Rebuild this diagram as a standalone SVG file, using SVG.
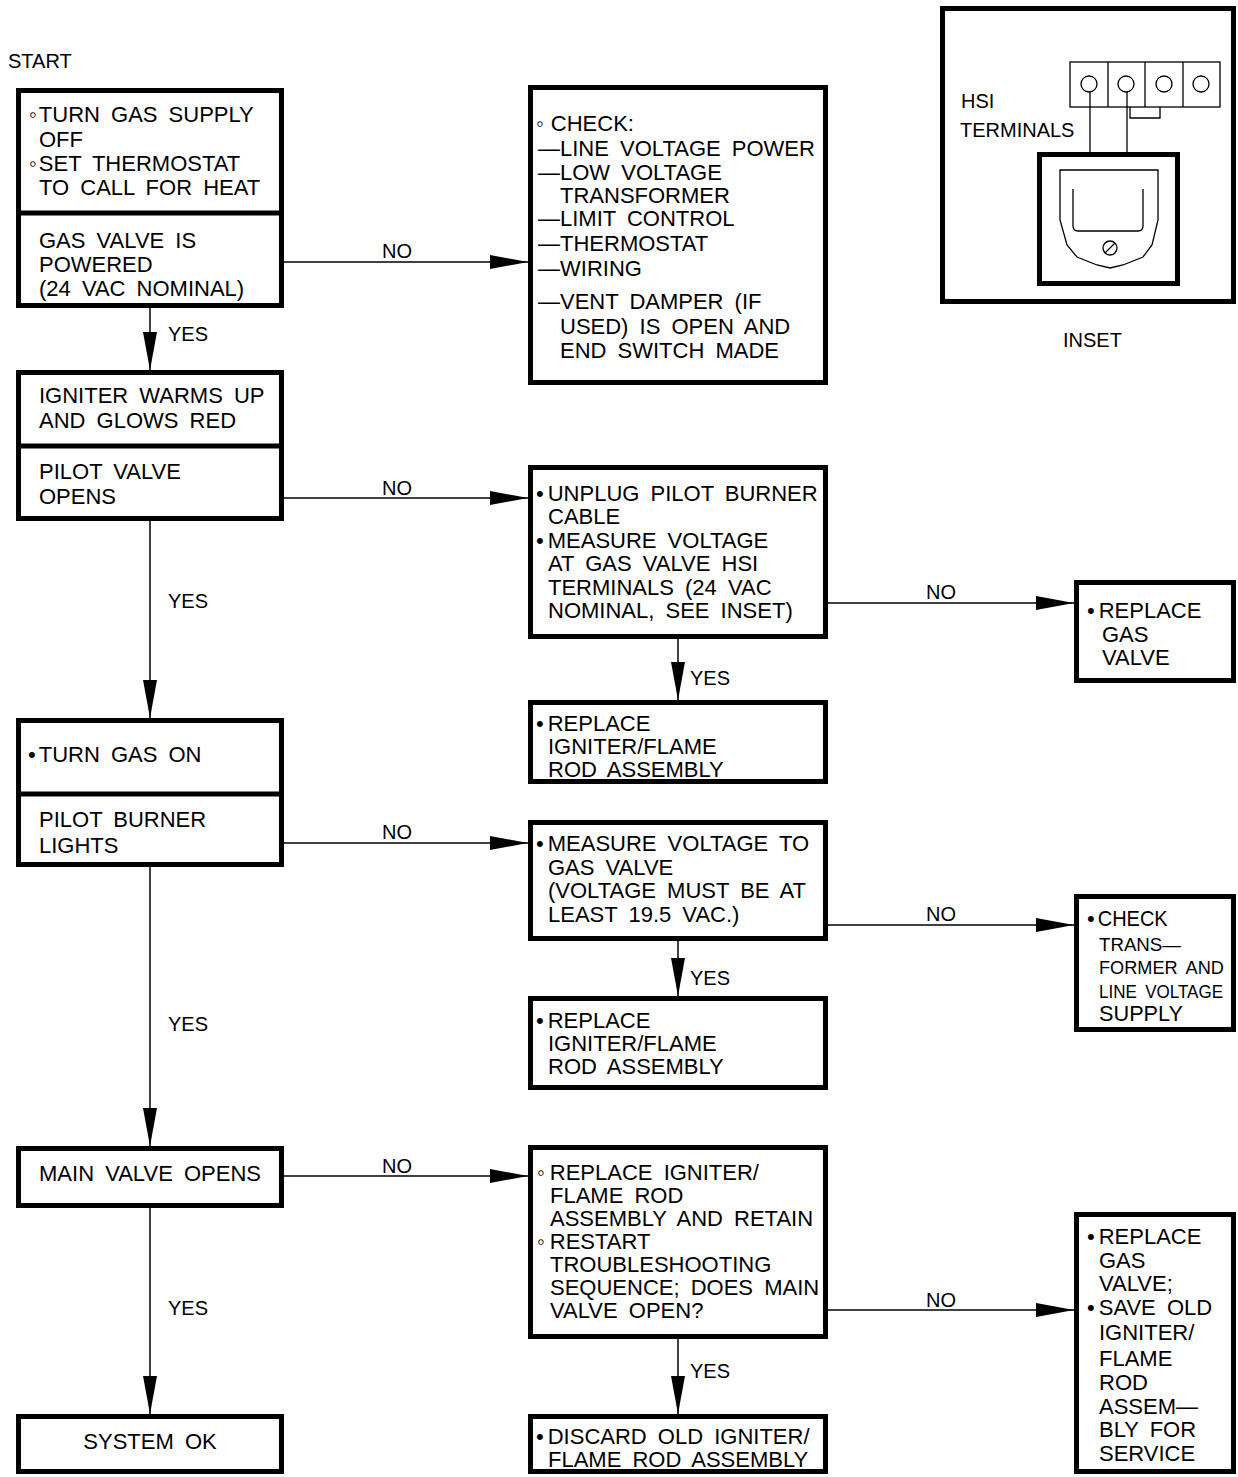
<svg xmlns="http://www.w3.org/2000/svg" width="1238" height="1477" viewBox="0 0 1238 1477">
<defs>
<style>
.box{fill:#fff;stroke:#000;stroke-width:5}
.div{stroke:#000;stroke-width:5}
.ln{stroke:#000;stroke-width:1.5;fill:none}
.thin{stroke:#000;stroke-width:1.3;fill:none}
text{font-family:"Liberation Sans",Arial,sans-serif;font-size:22px;fill:#000;word-spacing:5px}
.lbl{font-size:20px;word-spacing:0}
.mid{text-anchor:middle}
.nar{font-size:19px;word-spacing:4px}
</style>
<marker id="ah" markerUnits="userSpaceOnUse" markerWidth="38" markerHeight="14" refX="38" refY="7" orient="auto">
<path d="M0,0 L38,7 L0,14 z" fill="#000"/>
</marker>
</defs>
<rect width="1238" height="1477" fill="#fff"/>

<text class="lbl" x="8" y="68">START</text>

<g id="connectors">
<line class="ln" x1="284" y1="262" x2="528" y2="262" marker-end="url(#ah)"/>
<text class="lbl" x="382" y="258">NO</text>
<line class="ln" x1="150" y1="308" x2="150" y2="370" marker-end="url(#ah)"/>
<text class="lbl" x="168" y="341">YES</text>
<line class="ln" x1="284" y1="498" x2="528" y2="498" marker-end="url(#ah)"/>
<text class="lbl" x="382" y="495">NO</text>
<line class="ln" x1="150" y1="521" x2="150" y2="718" marker-end="url(#ah)"/>
<text class="lbl" x="168" y="608">YES</text>
<line class="ln" x1="828" y1="603" x2="1074" y2="603" marker-end="url(#ah)"/>
<text class="lbl" x="926" y="599">NO</text>
<line class="ln" x1="678" y1="639" x2="678" y2="700" marker-end="url(#ah)"/>
<text class="lbl" x="690" y="685">YES</text>
<line class="ln" x1="284" y1="843" x2="528" y2="843" marker-end="url(#ah)"/>
<text class="lbl" x="382" y="839">NO</text>
<line class="ln" x1="150" y1="867" x2="150" y2="1146" marker-end="url(#ah)"/>
<text class="lbl" x="168" y="1031">YES</text>
<line class="ln" x1="828" y1="925" x2="1074" y2="925" marker-end="url(#ah)"/>
<text class="lbl" x="926" y="921">NO</text>
<line class="ln" x1="678" y1="941" x2="678" y2="996" marker-end="url(#ah)"/>
<text class="lbl" x="690" y="985">YES</text>
<line class="ln" x1="284" y1="1176" x2="528" y2="1176" marker-end="url(#ah)"/>
<text class="lbl" x="382" y="1173">NO</text>
<line class="ln" x1="150" y1="1208" x2="150" y2="1414" marker-end="url(#ah)"/>
<text class="lbl" x="168" y="1315">YES</text>
<line class="ln" x1="828" y1="1310" x2="1074" y2="1310" marker-end="url(#ah)"/>
<text class="lbl" x="926" y="1307">NO</text>
<line class="ln" x1="678" y1="1339" x2="678" y2="1414" marker-end="url(#ah)"/>
<text class="lbl" x="690" y="1378">YES</text>
</g>

<g id="n-start">
<rect class="box" x="18.5" y="90.5" width="263" height="215"/>
<line class="div" x1="18" y1="213" x2="282" y2="213"/>
<text x="29" y="122">◦<tspan dx="2">TURN GAS SUPPLY</tspan></text>
<text x="39" y="147">OFF</text>
<text x="29" y="171">◦<tspan dx="2">SET THERMOSTAT</tspan></text>
<text x="39" y="195">TO CALL FOR HEAT</text>
<text x="39" y="248">GAS VALVE IS</text>
<text x="39" y="272">POWERED</text>
<text x="39" y="296">(24 VAC NOMINAL)</text>
</g>

<g id="n-check">
<rect class="box" x="530.5" y="87.5" width="295" height="295"/>
<text x="536" y="131">◦<tspan dx="7">CHECK:</tspan></text>
<text x="538" y="156">—LINE VOLTAGE POWER</text>
<text x="538" y="180">—LOW VOLTAGE</text>
<text x="560" y="203">TRANSFORMER</text>
<text x="538" y="226">—LIMIT CONTROL</text>
<text x="538" y="251">—THERMOSTAT</text>
<text x="538" y="276">—WIRING</text>
<text x="538" y="309">—VENT DAMPER (IF</text>
<text x="560" y="334">USED) IS OPEN AND</text>
<text x="560" y="358">END SWITCH MADE</text>
</g>

<g id="n-inset">
<rect class="box" x="942.5" y="8.5" width="291" height="293"/>
<rect class="thin" x="1070" y="62" width="150" height="45"/>
<line class="thin" x1="1108" y1="62" x2="1108" y2="107"/>
<line class="thin" x1="1145" y1="62" x2="1145" y2="107"/>
<line class="thin" x1="1183" y1="62" x2="1183" y2="107"/>
<circle class="thin" cx="1089" cy="84" r="8"/>
<circle class="thin" cx="1126" cy="84" r="8"/>
<circle class="thin" cx="1164" cy="84" r="8"/>
<circle class="thin" cx="1201" cy="84" r="8"/>
<path class="thin" d="M1130,107 V118 H1160 V107"/>
<line class="thin" x1="1090" y1="92" x2="1090" y2="153"/>
<line class="thin" x1="1127" y1="92" x2="1127" y2="153"/>
<rect class="box" x="1039.5" y="154.5" width="138" height="129"/>
<path class="thin" d="M1060,170 H1158 V220 L1152,245 L1143,257 L1123,265 L1110,268 L1097,265 L1077,257 L1067,245 L1060,220 Z"/>
<path class="thin" d="M1073,189 V226 Q1073,231 1078,231 H1138 Q1143,231 1143,226 V189"/>
<circle class="thin" cx="1110" cy="248" r="7"/>
<line class="thin" x1="1105" y1="253" x2="1115" y2="243"/>
<text class="lbl" x="961" y="108">HSI</text>
<text class="lbl" x="960" y="137">TERMINALS</text>
<text class="lbl" x="1063" y="347">INSET</text>
</g>

<g id="n-igniter">
<rect class="box" x="18.5" y="372.5" width="263" height="146"/>
<line class="div" x1="18" y1="446" x2="282" y2="446"/>
<text x="39" y="403">IGNITER WARMS UP</text>
<text x="39" y="428">AND GLOWS RED</text>
<text x="39" y="479">PILOT VALVE</text>
<text x="39" y="504">OPENS</text>
</g>

<g id="n-unplug">
<rect class="box" x="530.5" y="467.5" width="295" height="169"/>
<text x="536" y="501">•<tspan dx="4">UNPLUG PILOT BURNER</tspan></text>
<text x="548" y="524">CABLE</text>
<text x="536" y="548">•<tspan dx="4">MEASURE VOLTAGE</tspan></text>
<text x="548" y="571">AT GAS VALVE HSI</text>
<text x="548" y="595">TERMINALS (24 VAC</text>
<text x="548" y="618">NOMINAL, SEE INSET)</text>
</g>

<g id="n-gasvalve1">
<rect class="box" x="1076.5" y="582.5" width="157" height="98"/>
<text x="1087" y="618">•<tspan dx="4">REPLACE</tspan></text>
<text x="1102" y="642">GAS</text>
<text x="1102" y="665">VALVE</text>
</g>

<g id="n-igniter1">
<rect class="box" x="530.5" y="702.5" width="295" height="79"/>
<text x="536" y="731">•<tspan dx="4">REPLACE</tspan></text>
<text x="548" y="754">IGNITER/FLAME</text>
<text x="548" y="777">ROD ASSEMBLY</text>
</g>

<g id="n-gason">
<rect class="box" x="18.5" y="720.5" width="263" height="144"/>
<line class="div" x1="18" y1="794" x2="282" y2="794"/>
<text x="28" y="762">•<tspan dx="3">TURN GAS ON</tspan></text>
<text x="39" y="827">PILOT BURNER</text>
<text x="39" y="853">LIGHTS</text>
</g>

<g id="n-measure">
<rect class="box" x="530.5" y="822.5" width="295" height="116"/>
<text x="536" y="851">•<tspan dx="4">MEASURE VOLTAGE TO</tspan></text>
<text x="548" y="875">GAS VALVE</text>
<text x="548" y="898">(VOLTAGE MUST BE AT</text>
<text x="548" y="922">LEAST 19.5 VAC.)</text>
</g>

<g id="n-transformer">
<rect class="box" x="1076.5" y="896.5" width="157" height="133"/>
<text x="1087" y="926">•<tspan dx="3" textLength="70" lengthAdjust="spacingAndGlyphs">CHECK</tspan></text>
<text class="nar" x="1099" y="951" textLength="82" lengthAdjust="spacingAndGlyphs">TRANS—</text>
<text class="nar" x="1099" y="974" textLength="125" lengthAdjust="spacingAndGlyphs">FORMER AND</text>
<text class="nar" x="1099" y="998" textLength="124" lengthAdjust="spacingAndGlyphs">LINE VOLTAGE</text>
<text x="1099" y="1021" textLength="84" lengthAdjust="spacingAndGlyphs">SUPPLY</text>
</g>

<g id="n-igniter2">
<rect class="box" x="530.5" y="998.5" width="295" height="89"/>
<text x="536" y="1028">•<tspan dx="4">REPLACE</tspan></text>
<text x="548" y="1051">IGNITER/FLAME</text>
<text x="548" y="1074">ROD ASSEMBLY</text>
</g>

<g id="n-mainvalve">
<rect class="box" x="18.5" y="1148.5" width="263" height="57"/>
<text class="mid" x="150" y="1181">MAIN VALVE OPENS</text>
</g>

<g id="n-retain">
<rect class="box" x="530.5" y="1147.5" width="295" height="189"/>
<text x="537" y="1180">◦<tspan dx="5">REPLACE IGNITER/</tspan></text>
<text x="550" y="1203">FLAME ROD</text>
<text x="550" y="1226">ASSEMBLY AND RETAIN</text>
<text x="537" y="1249">◦<tspan dx="5">RESTART</tspan></text>
<text x="550" y="1272">TROUBLESHOOTING</text>
<text x="550" y="1295">SEQUENCE; DOES MAIN</text>
<text x="550" y="1318">VALVE OPEN?</text>
</g>

<g id="n-gasvalve2">
<rect class="box" x="1076.5" y="1214.5" width="157" height="257"/>
<text x="1087" y="1244">•<tspan dx="4">REPLACE</tspan></text>
<text x="1099" y="1268">GAS</text>
<text x="1099" y="1291">VALVE;</text>
<text x="1087" y="1315">•<tspan dx="4">SAVE OLD</tspan></text>
<text x="1099" y="1340">IGNITER/</text>
<text x="1099" y="1366">FLAME</text>
<text x="1099" y="1390">ROD</text>
<text x="1099" y="1414">ASSEM—</text>
<text x="1099" y="1437">BLY FOR</text>
<text x="1099" y="1461">SERVICE</text>
</g>

<g id="n-systemok">
<rect class="box" x="18.5" y="1416.5" width="263" height="55"/>
<text class="mid" x="150" y="1449">SYSTEM OK</text>
</g>

<g id="n-discard">
<rect class="box" x="530.5" y="1416.5" width="295" height="55"/>
<text x="536" y="1444">•<tspan dx="4">DISCARD OLD IGNITER/</tspan></text>
<text x="548" y="1467">FLAME ROD ASSEMBLY</text>
</g>
</svg>
